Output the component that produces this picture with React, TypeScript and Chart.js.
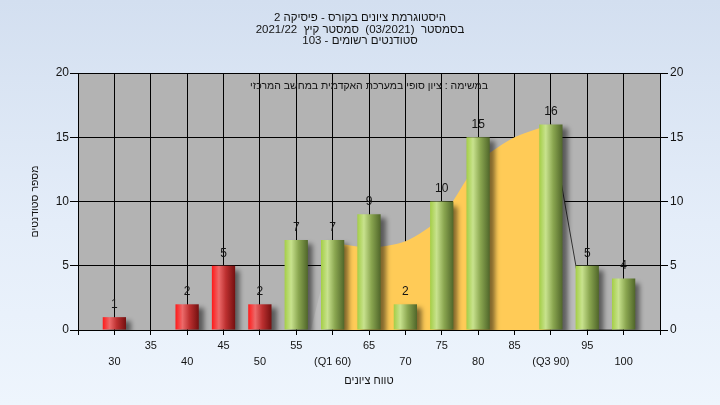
import React, { useEffect, useRef } from 'react';
import { Chart, registerables } from 'chart.js';

Chart.register(...registerables);

const FONT = '"Liberation Sans", Arial, "DejaVu Sans", sans-serif';

const titleLines = [
  'היסטוגרמת ציונים בקורס - פיסיקה 2',
  'בסמסטר  (03/2021)  סמסטר קיץ  2021/22',
  'סטודנטים רשומים - 103',
];
const noteText = 'במשימה : ציון סופי במערכת האקדמית במחשב המרכזי';
const xTitle = 'טווח ציונים';
const yTitle = 'מספר סטודנטים';

const scores = [30, 35, 40, 45, 50, 55, 60, 65, 70, 75, 80, 85, 90, 95, 100];
const counts = [1, 0, 2, 5, 2, 7, 7, 9, 2, 10, 15, 0, 16, 5, 4];
const xTickLabels = ['30', '35', '40', '45', '50', '55', '(Q1 60)', '65', '70', '75', '80', '85', '(Q3 90)', '95', '100'];
const passScore = 55;
const q1Score = 60;
const q3Score = 90;

const curveScores = [30, 35, 40, 45, 50, 55, 57, 60, 65, 70, 75, 80, 85, 90, 95, 100];
const curveValues = [0, 0, 0, 0, 0, 0, 0, 6.8, 6.4, 6.9, 8.8, 13, 15, 16, 0, 0];

const X_MIN = 25;
const X_MAX = 105;
const X_STEP = 5;
const Y_MAX = 20;
const Y_STEP = 5;
const BAR_PCT = 0.64;

const curvePoints = curveScores.map((s, i) => ({ x: s, y: curveValues[i] }));
const lowCurve = curvePoints.filter((p) => p.x <= q1Score);
const midCurve = curvePoints.filter((p) => p.x >= q1Score && p.x <= q3Score);
const highCurve = curvePoints.filter((p) => p.x >= q3Score);

function barFill(ctx: any) {
  const raw = ctx.raw as { x: number; y: number } | undefined;
  const fallback = raw && raw.x < passScore ? '#D03030' : '#98B850';
  if (ctx.type !== 'data' || !raw) return fallback;
  const chart = ctx.chart;
  const xs = chart.scales && chart.scales.x;
  if (!xs) return fallback;
  const cx = xs.getPixelForValue(raw.x);
  const half = (Math.abs(xs.getPixelForValue(X_STEP) - xs.getPixelForValue(0)) * BAR_PCT) / 2;
  if (!isFinite(cx) || !isFinite(half) || half <= 0) return fallback;
  const g = chart.ctx.createLinearGradient(cx - half, 0, cx + half, 0);
  if (raw.x < passScore) {
    g.addColorStop(0, '#FF1A1A');
    g.addColorStop(0.3, '#EC6A6A');
    g.addColorStop(0.6, '#BD3030');
    g.addColorStop(1, '#741010');
  } else {
    g.addColorStop(0, '#A4CE46');
    g.addColorStop(0.28, '#C8E28E');
    g.addColorStop(0.6, '#8AA650');
    g.addColorStop(1, '#50662A');
  }
  return g;
}

const plotBgPlugin = {
  id: 'plotBg',
  beforeDraw(chart: any) {
    const { ctx, chartArea } = chart;
    ctx.save();
    ctx.fillStyle = '#B3B3B3';
    ctx.fillRect(chartArea.left, chartArea.top, chartArea.right - chartArea.left, chartArea.bottom - chartArea.top);
    ctx.restore();
  },
};

const barShadowPlugin = {
  id: 'barShadow',
  beforeDatasetDraw(chart: any, args: any) {
    if (chart.getDatasetMeta(args.index).type !== 'bar') return;
    const ctx = chart.ctx;
    ctx.save();
    ctx.shadowColor = 'rgba(0,0,0,0.5)';
    ctx.shadowBlur = 5;
    ctx.shadowOffsetX = 5;
    ctx.shadowOffsetY = 4;
  },
  afterDatasetDraw(chart: any, args: any) {
    if (chart.getDatasetMeta(args.index).type !== 'bar') return;
    chart.ctx.restore();
  },
};

const textPlugin = {
  id: 'texts',
  afterDraw(chart: any) {
    const { ctx, chartArea } = chart;
    const cx = (chartArea.left + chartArea.right) / 2;
    ctx.save();
    ctx.fillStyle = '#141414';
    ctx.textAlign = 'center';
    ctx.textBaseline = 'middle';
    ctx.font = `11.5px ${FONT}`;
    const titleY = [17.5, 29.5, 41];
    titleLines.forEach((t, i) => ctx.fillText(t, chart.width / 2, titleY[i]));
    ctx.font = `10.5px ${FONT}`;
    ctx.fillText(noteText, cx, chartArea.top + 13);
    ctx.font = `11px ${FONT}`;
    ctx.fillText(xTitle, cx, 381);
    ctx.font = `10.5px ${FONT}`;
    ctx.save();
    ctx.translate(35, (chartArea.top + chartArea.bottom) / 2);
    ctx.rotate(-Math.PI / 2);
    ctx.fillText(yTitle, 0, 0);
    ctx.restore();
    ctx.font = `12px ${FONT}`;
    const meta = chart.getDatasetMeta(0);
    meta.data.forEach((el: any, i: number) => {
      if (counts[i] > 0) ctx.fillText(String(counts[i]), el.x, el.y - 12.5);
    });
    ctx.restore();
  },
};

export default function App() {
  const ref = useRef<HTMLCanvasElement>(null);
  useEffect(() => {
    if (!ref.current) return;
    const chart = new Chart(ref.current, {
      type: 'bar',
      data: {
        datasets: [
          {
            type: 'bar',
            data: scores.map((s, i) => ({ x: s, y: counts[i] })),
            backgroundColor: barFill as any,
            borderWidth: 0,
            barPercentage: BAR_PCT,
            categoryPercentage: 1,
            order: 0,
          },
          {
            type: 'line',
            data: midCurve,
            backgroundColor: '#FFCB57',
            borderWidth: 0,
            borderColor: 'rgba(0,0,0,0)',
            fill: 'origin',
            pointRadius: 0,
            tension: 0.25,
            order: 1,
          },
          {
            type: 'line',
            data: lowCurve,
            backgroundColor: '#BEBEBE',
            borderWidth: 0,
            borderColor: 'rgba(0,0,0,0)',
            fill: 'origin',
            pointRadius: 0,
            tension: 0,
            order: 2,
          },
          {
            type: 'line',
            data: highCurve,
            backgroundColor: '#BCBCBC',
            borderWidth: 1,
            borderColor: '#333333',
            fill: 'origin',
            pointRadius: 0,
            tension: 0,
            order: 2,
          },
        ] as any,
      },
      options: {
        responsive: false,
        animation: false,
        events: [],
        layout: { padding: { top: 73, left: 0, right: 0, bottom: 0 } },
        plugins: { legend: { display: false }, tooltip: { enabled: false }, title: { display: false } },
        scales: {
          x: {
            type: 'linear',
            min: X_MIN,
            max: X_MAX,
            offset: false,
            afterFit: (s: any) => { s.height = 75; },
            grid: { color: '#000', lineWidth: 1, tickLength: 5, offset: false, tickColor: '#000' },
            border: { color: '#000', width: 1 },
            ticks: {
              stepSize: X_STEP,
              autoSkip: false,
              maxRotation: 0,
              padding: 3,
              color: '#141414',
              font: { family: FONT, size: 11, lineHeight: '16px' } as any,
              callback: (v: any) => {
                const idx = scores.indexOf(Number(v));
                if (idx < 0) return '';
                return idx % 2 === 1 ? [xTickLabels[idx], ''] : ['', xTickLabels[idx]];
              },
            },
          },
          y: {
            type: 'linear',
            position: 'left',
            min: 0,
            max: Y_MAX,
            afterFit: (s: any) => { s.width = 78; },
            grid: { color: '#000', lineWidth: 1, tickLength: 8, tickColor: '#000' },
            border: { color: '#000', width: 1 },
            ticks: { stepSize: Y_STEP, padding: 1, color: '#141414', font: { family: FONT, size: 12 } },
          },
          y2: {
            type: 'linear',
            position: 'right',
            min: 0,
            max: Y_MAX,
            afterFit: (s: any) => { s.width = 60; },
            grid: { drawOnChartArea: false, tickLength: 8, tickColor: '#000', color: '#000' },
            border: { color: '#000', width: 1 },
            ticks: { stepSize: Y_STEP, padding: 2, color: '#141414', font: { family: FONT, size: 12 } },
          },
        },
      } as any,
      plugins: [plotBgPlugin, barShadowPlugin, textPlugin],
    });
    return () => chart.destroy();
  }, []);
  return (
    <div
      style={{
        position: 'fixed',
        left: 0,
        top: 0,
        width: 720,
        height: 405,
        background: 'linear-gradient(to bottom, #D3DFF0 0%, #E4EDF9 55%, #EEF5FD 100%)',
      }}
    >
      <canvas ref={ref} width={720} height={405} style={{ display: 'block' }} />
    </div>
  );
}
